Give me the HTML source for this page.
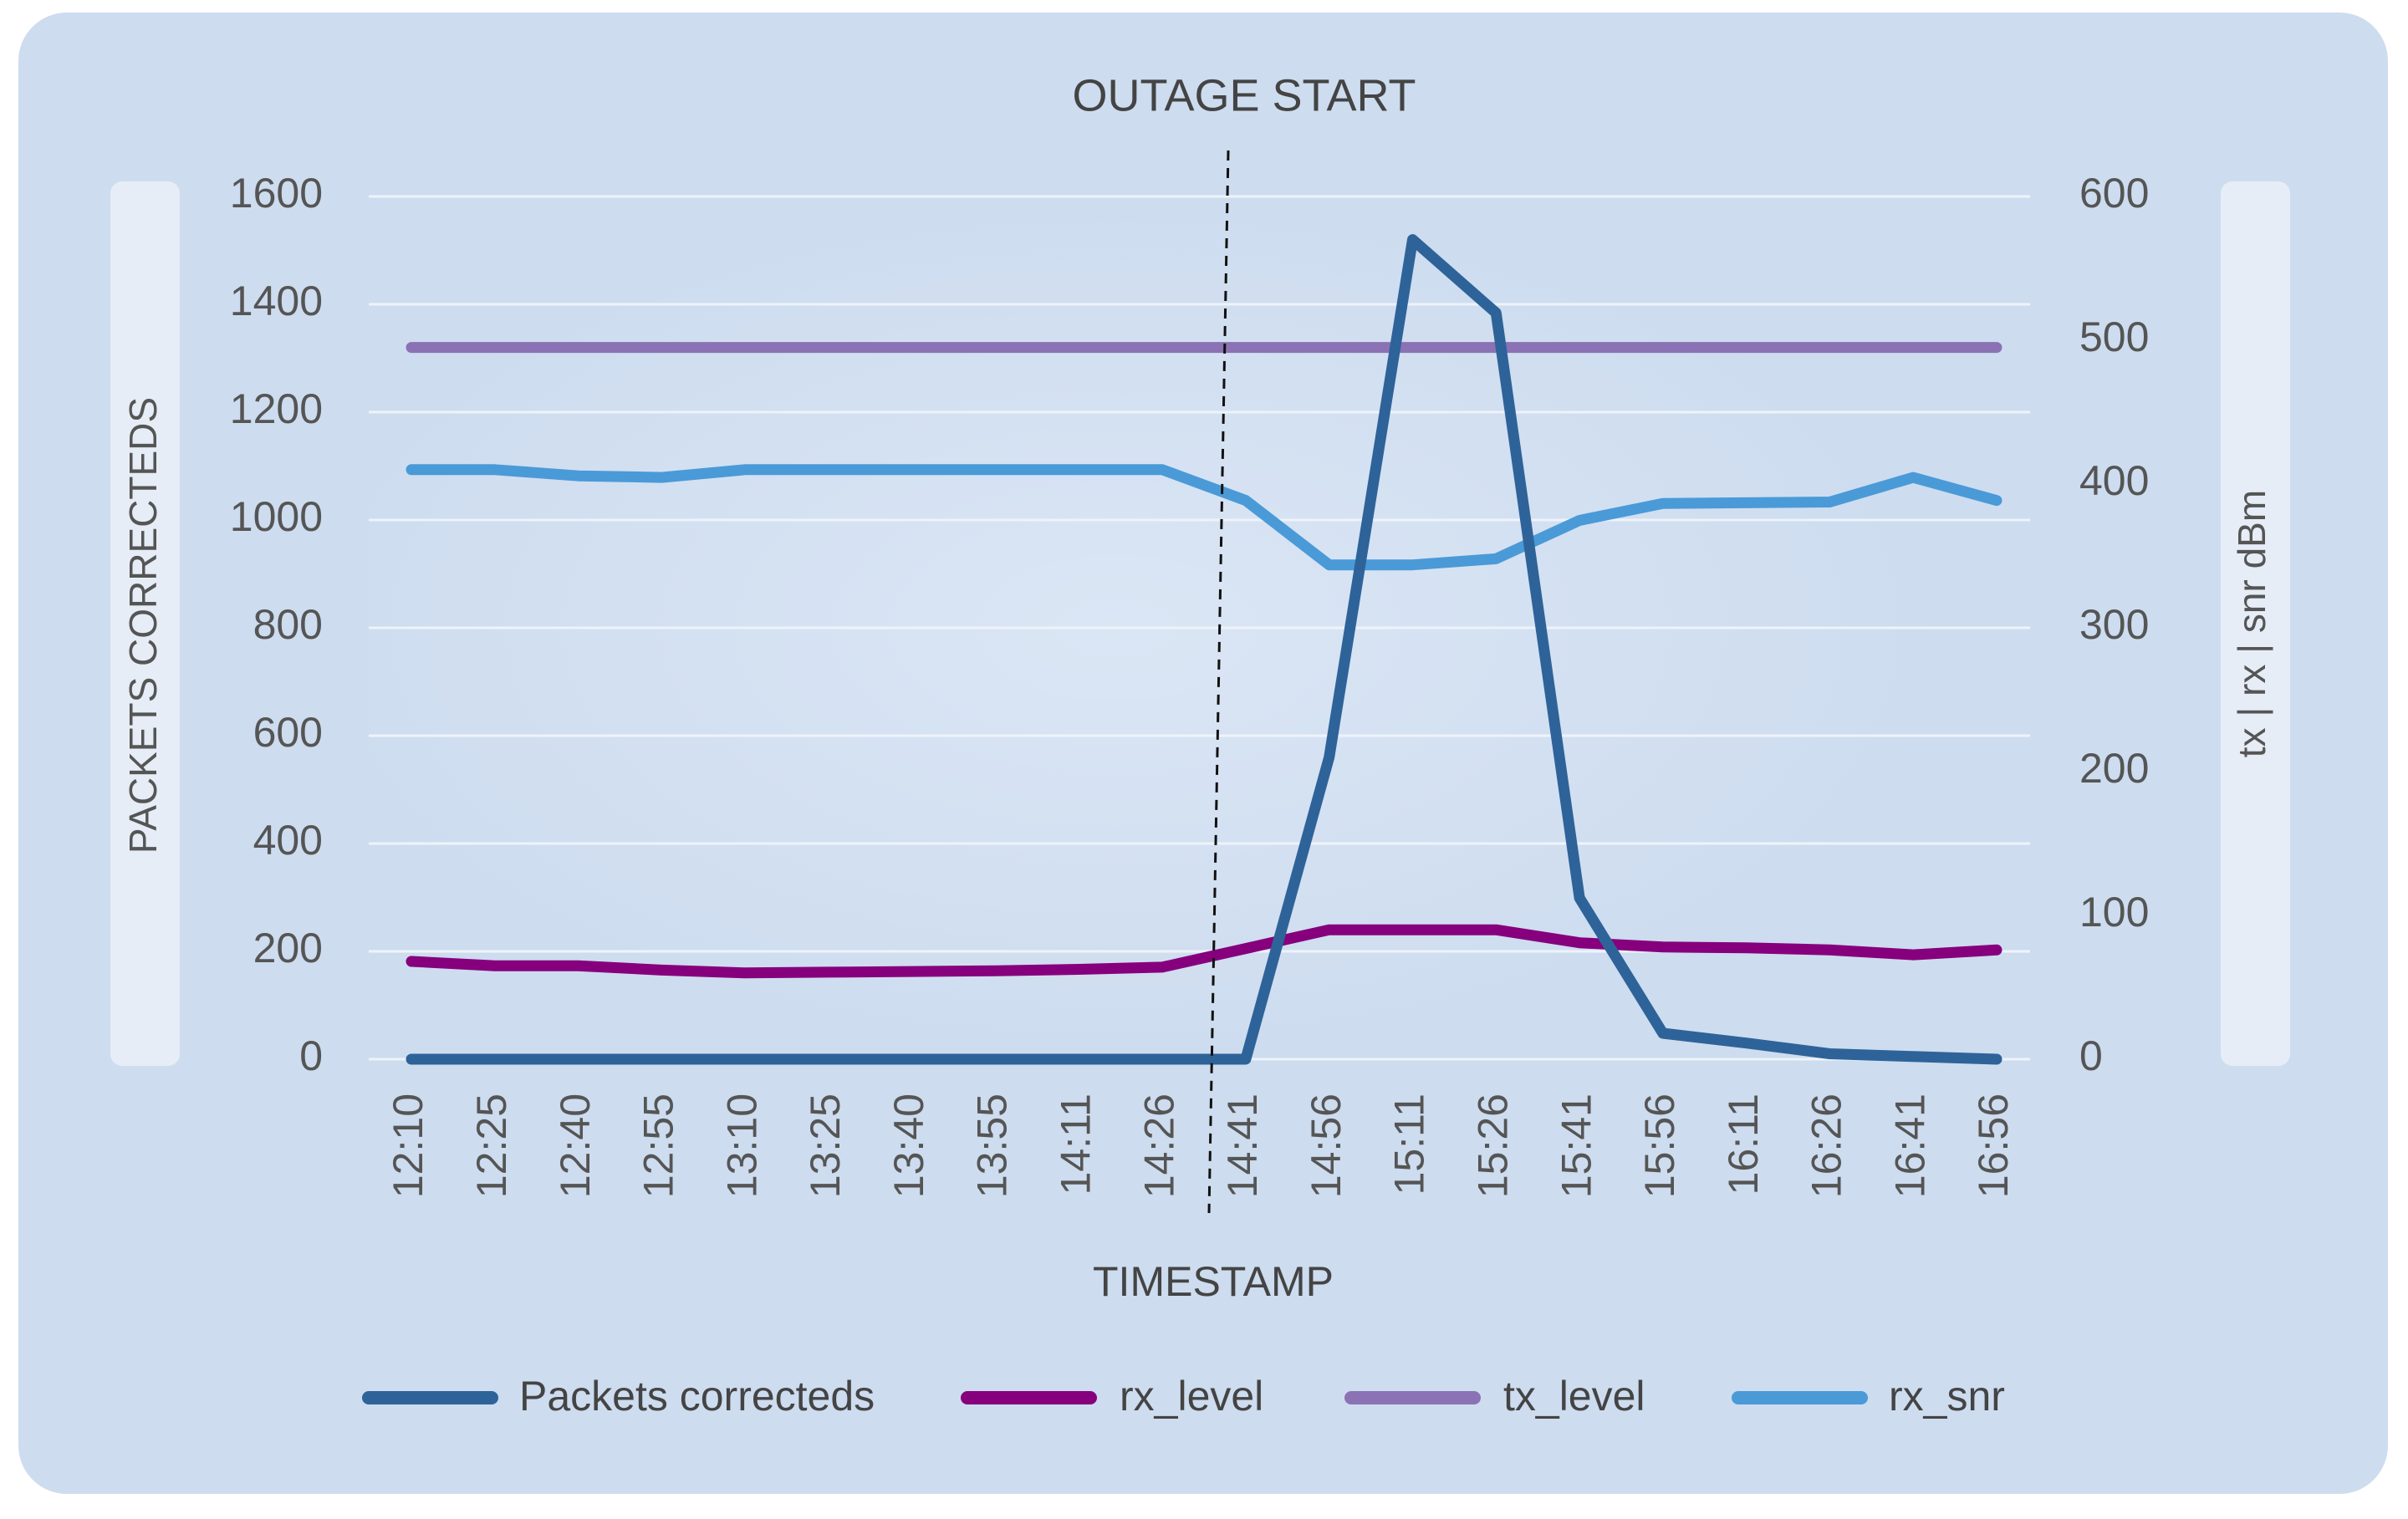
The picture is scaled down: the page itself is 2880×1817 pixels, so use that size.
<!DOCTYPE html>
<html><head><meta charset="utf-8"><style>
html,body{margin:0;padding:0;background:#fff;}
svg text{font-family:"Liberation Sans",sans-serif;}
</style></head><body>
<svg id="chart" width="2880" height="1812" viewBox="0 0 2880 1812" xmlns="http://www.w3.org/2000/svg">
<defs><radialGradient id="glow" cx="0.45" cy="0.5" r="0.5"><stop offset="0" stop-color="#dbe6f5"/><stop offset="1" stop-color="#cddcef"/></radialGradient></defs>
<rect x="22" y="15" width="2834" height="1772" rx="58" fill="#cddcef"/>
<rect x="441" y="235" width="1987" height="1032" fill="url(#glow)"/>
<rect x="132" y="217" width="83" height="1058" rx="14" fill="#e6edf7"/>
<rect x="2656" y="217" width="83" height="1058" rx="14" fill="#e6edf7"/>
<text x="175" y="748" font-size="46" fill="#555" text-anchor="middle" dominant-baseline="middle" transform="rotate(-90 175 748)">PACKETS CORRECTEDS</text>
<text x="2697" y="746" font-size="46" fill="#555" text-anchor="middle" dominant-baseline="middle" transform="rotate(-90 2697 746)">tx | rx | snr dBm</text>
<text x="1488" y="118" font-size="54" fill="#444" text-anchor="middle" dominant-baseline="middle">OUTAGE START</text>
<text x="1451" y="1537" font-size="50" fill="#444" text-anchor="middle" dominant-baseline="middle">TIMESTAMP</text>
<g id="grid"></g><g id="series"></g><g id="labels"></g><g id="legend"></g>
<line x1="1469" y1="180" x2="1446" y2="1451" stroke="#111" stroke-width="3" stroke-dasharray="12,9"/>
</svg>
<script>
const categories=["12:10","12:25","12:40","12:55","13:10","13:25","13:40","13:55","14:11","14:26","14:41","14:56","15:11","15:26","15:41","15:56","16:11","16:26","16:41","16:56"];
const packets=[0,0,0,0,0,0,0,0,0,0,0,560,1520,1384,299,48,30,10,5,0];
const rxLevel=[68,65,65,62,60,60.5,61,61.5,62.5,64,77,90,90,90,81,78,77.5,76,72.6,76];
const txLevel=[495,495,495,495,495,495,495,495,495,495,495,495,495,495,495,495,495,495,495,495];
const rxSnr=[410,410,405.7,404.6,410,410,410,410,410,410,388.6,343.8,343.8,348,374.7,386.5,387,387.5,404.6,388.6];
const leftTicks=[0,200,400,600,800,1000,1200,1400,1600];
const rightTicks=[0,100,200,300,400,500,600];
</script>
<script>
const NS="http://www.w3.org/2000/svg";
const L=441,R=2428,T=235,B=1267,X0=492,X1=2388;
const n=categories.length;
function xs(i){return X0+(X1-X0)*i/(n-1);}
function yl(v){return B-(B-T)*v/1600;}
function yr(v){return B-(B-T)*v/600;}
function mk(tag,attrs,parent){const e=document.createElementNS(NS,tag);for(const k in attrs)e.setAttribute(k,attrs[k]);parent.appendChild(e);return e;}
const grid=document.getElementById('grid'),ser=document.getElementById('series'),lab=document.getElementById('labels'),leg=document.getElementById('legend');
leftTicks.forEach(v=>{
 const g=mk('line',{x1:L,x2:R,y1:yl(v),y2:yl(v),stroke:'#eef3fa','stroke-width':3},grid);
 
 
 const t=mk('text',{x:386,y:yl(v),'font-size':50,fill:'#555','text-anchor':'end','dominant-baseline':'middle'},lab);
 t.textContent=v;
 
 
});
rightTicks.forEach(v=>{
 const t=mk('text',{x:2487,y:yr(v),'font-size':50,fill:'#555','text-anchor':'start','dominant-baseline':'middle'},lab);
 t.textContent=v;
 
 
});
categories.forEach((c,i)=>{
 const x=xs(i),y=1308;
 const t=mk('text',{x:x,y:y,'font-size':50,fill:'#555','text-anchor':'end','dominant-baseline':'middle',transform:`rotate(-90 ${x} ${y})`},lab);
 t.textContent=c;
 
 
});
function line(vals,fy,color,name){
 const d=vals.map((v,i)=>(i?'L':'M')+xs(i).toFixed(1)+','+fy(v).toFixed(1)).join('');
 const p=mk('path',{d:d,fill:'none',stroke:color,'stroke-width':13,'stroke-linejoin':'round','stroke-linecap':'round'},ser);
 
 
}
line(txLevel,yr,'#8a72b4','tx-level-line');
line(rxSnr,yr,'#4a9ad8','rx-snr-line');
line(rxLevel,yr,'#86007d','rx-level-line');
line(packets,yl,'#2e6399','packets-corrected-line');
const legItems=[["Packets correcteds","#2e6399",441,621],["rx_level","#86007d",1157,1339],["tx_level","#8a72b4",1616,1798],["rx_snr","#4a9ad8",2079,2259]];
legItems.forEach(it=>{
 const g=mk('g',{},leg);
 
 
 mk('line',{x1:it[2],x2:it[2]+147,y1:1672,y2:1672,stroke:it[1],'stroke-width':16,'stroke-linecap':'round'},g);
 const t=mk('text',{x:it[3],y:1674,'font-size':50,fill:'#444','dominant-baseline':'middle'},g);
 t.textContent=it[0];
});
</script>
</body></html>
